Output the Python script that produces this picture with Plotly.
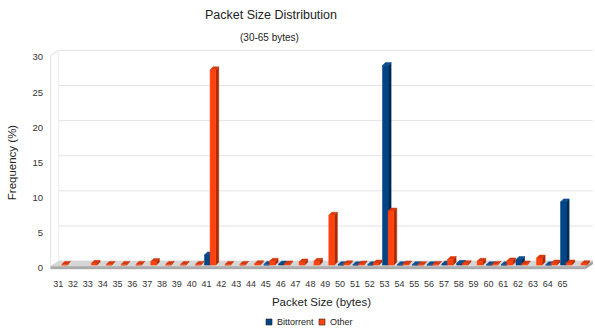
import plotly.graph_objects as go

# Packet sizes (bytes); the last group has no printed label
sizes = list(range(31, 67))
tick_labels = [str(s) for s in range(31, 66)]
series_names = ["Bittorrent", "Other"]
y_ticks = [0, 5, 10, 15, 20, 25, 30]

# Frequency (%) per packet size, None = no bar
bittorrent = [None, None, None, None, None, None, None, None, None, None,
              1.45, None, None, None, 0.1, 0.15, None, None, None, 0.05,
              0.05, 0.05, 28.4, 0.05, 0.05, 0.05, 0.15, 0.25, None, 0.05,
              0.05, 0.8, None, 0.05, 9.0, None]
other = [0.1, None, 0.25, 0.1, 0.1, 0.1, 0.5, 0.1, 0.1, 0.1,
         27.8, 0.1, 0.1, 0.2, 0.55, 0.15, 0.45, 0.55, 7.1, 0.2,
         0.15, 0.3, 7.7, 0.15, 0.05, 0.1, 0.8, 0.2, 0.55, 0.1,
         0.6, 0.15, 1.0, 0.3, 0.3, 0.2]

FONT = "Liberation Sans, Arial, sans-serif"
BLUE = ("#004586", "#002a55", "#0d4f8f")     # front, side, top
ORANGE = ("#ff420e", "#a82a06", "#d8380c")

# page geometry (px) of the plotting area
L, R, T, B = 50, 2, 48, 57
W_PAGE, H_PAGE = 595, 334
X_RANGE = [30.45, 67.05]
Y_RANGE = [-1.3, 31.3]
PW = W_PAGE - L - R
PH = H_PAGE - T - B
XU = PW / (X_RANGE[1] - X_RANGE[0])   # px per x unit
YU = PH / (Y_RANGE[1] - Y_RANGE[0])   # px per y unit

# 3D scene depth (floor / walls) and bar depth, in data units
DX = 8 / XU
DY = 5 / YU
DXB = 3 / XU
DYB = 3 / YU
FT = 0.25                 # front edge of floor top
FLOOR_TH = 0.4
BASE = FT + (DY - DYB) / 2
BAR_W = 0.38
SHIFT = 0.24
X_LO, X_HI = sizes[0] - 0.5, sizes[-1] + 0.5


def px_x(px):
    return (px - L) / PW


def px_y(py):
    return (H_PAGE - B - py) / PH


def bar_faces(values, x_off):
    fx, fy, sx, sy, tx, ty = [], [], [], [], [], []
    for c, h in zip(sizes, values):
        if h is None:
            continue
        x0 = c + x_off
        x1 = x0 + BAR_W
        b, t = BASE, BASE + h
        fx += [x0, x1, x1, x0, x0, None]
        fy += [b, b, t, t, b, None]
        sx += [x1, x1 + DXB, x1 + DXB, x1, x1, None]
        sy += [b, b + DYB, t + DYB, t, b, None]
        tx += [x0, x1, x1 + DXB, x0 + DXB, x0, None]
        ty += [t, t, t + DYB, t + DYB, t, None]
    return (fx, fy), (sx, sy), (tx, ty)


def poly(xy, color, name):
    return go.Scatter(x=xy[0], y=xy[1], mode="lines", fill="toself",
                      fillcolor=color, line=dict(width=0.5, color=color),
                      name=name, showlegend=False, hoverinfo="skip")


fig = go.Figure()

# floor slab: right side, front face, top surface
fig.add_trace(poly(([X_HI, X_HI + DX, X_HI + DX, X_HI, X_HI],
                    [FT - FLOOR_TH, FT + DY - FLOOR_TH, FT + DY, FT, FT - FLOOR_TH]),
                   "#9c9c9c", "floor"))
fig.add_trace(poly(([X_LO, X_HI, X_HI, X_LO, X_LO],
                    [FT - FLOOR_TH, FT - FLOOR_TH, FT, FT, FT - FLOOR_TH]),
                   "#ababab", "floor"))
fig.add_trace(poly(([X_LO, X_HI, X_HI + DX, X_LO + DX, X_LO],
                    [FT, FT, FT + DY, FT + DY, FT]),
                   "#d6d6d6", "floor"))

for vals, off, cols, name in [(bittorrent, -BAR_W + SHIFT, BLUE, series_names[0]),
                              (other, SHIFT, ORANGE, series_names[1])]:
    front, side, top = bar_faces(vals, off)
    fig.add_trace(poly(side, cols[1], name))
    fig.add_trace(poly(top, cols[2], name))
    fig.add_trace(poly(front, cols[0], name))

shapes = []
# back wall grid lines
for v in y_ticks:
    shapes.append(dict(type="line", layer="below", xref="x", yref="y",
                       x0=X_LO + DX, x1=X_HI + DX, y0=v + FT + DY, y1=v + FT + DY,
                       line=dict(color="#e4e4e4", width=1)))
# left side wall outline
top_v = y_ticks[-1]
shapes.append(dict(type="line", layer="below", xref="x", yref="y",
                   x0=X_LO, x1=X_LO, y0=FT, y1=top_v + FT,
                   line=dict(color="#e0e0e0", width=1)))
shapes.append(dict(type="line", layer="below", xref="x", yref="y",
                   x0=X_LO, x1=X_LO + DX, y0=top_v + FT, y1=top_v + FT + DY,
                   line=dict(color="#e0e0e0", width=1)))
shapes.append(dict(type="line", layer="below", xref="x", yref="y",
                   x0=X_LO + DX, x1=X_LO + DX, y0=FT + DY, y1=top_v + FT + DY,
                   line=dict(color="#ededed", width=1)))

annotations = [
    dict(text="Packet Size Distribution", x=px_x(270.5), y=px_y(15),
         font=dict(size=12.5, color="#222", family=FONT)),
    dict(text="(30-65 bytes)", x=px_x(269), y=px_y(37.5),
         font=dict(size=10, color="#222", family=FONT)),
]

# legend
legend_items = [(series_names[0], BLUE[0], 266), (series_names[1], ORANGE[0], 319)]
for name, col, x_px in legend_items:
    shapes.append(dict(type="rect", xref="paper", yref="paper",
                       x0=px_x(x_px), x1=px_x(x_px + 6), y0=px_y(325), y1=px_y(319),
                       fillcolor=col, line=dict(color="#222", width=0.6)))
    annotations.append(dict(text=name, x=px_x(x_px + 8.5), y=px_y(322.3),
                            xanchor="left", font=dict(size=9, color="#222", family=FONT)))

for a in annotations:
    a.update(xref="paper", yref="paper", showarrow=False)
    a.setdefault("xanchor", "center")
    a.setdefault("yanchor", "middle")

fig.update_layout(
    width=W_PAGE, height=H_PAGE,
    margin=dict(l=L, r=R, t=T, b=B, autoexpand=False),
    paper_bgcolor="white", plot_bgcolor="white",
    showlegend=False,
    font=dict(family=FONT, color="#333"),
    shapes=shapes, annotations=annotations,
    xaxis=dict(range=X_RANGE, tickvals=sizes[:len(tick_labels)], ticktext=tick_labels,
               showgrid=False, zeroline=False, showline=False, ticks="",
               tickfont=dict(size=9, color="#333", family=FONT),
               title=dict(text="Packet Size (bytes)", standoff=9,
                          font=dict(size=11.5, color="#222", family=FONT)),
               fixedrange=True),
    yaxis=dict(range=Y_RANGE, tickvals=y_ticks, showgrid=False, zeroline=False,
               showline=False, ticks="", ticklabelstandoff=6,
               tickfont=dict(size=9.5, color="#333", family=FONT),
               title=dict(text="Frequency (%)", standoff=13,
                          font=dict(size=11.5, color="#222", family=FONT)),
               fixedrange=True),
)

fig.write_html("out.html")
